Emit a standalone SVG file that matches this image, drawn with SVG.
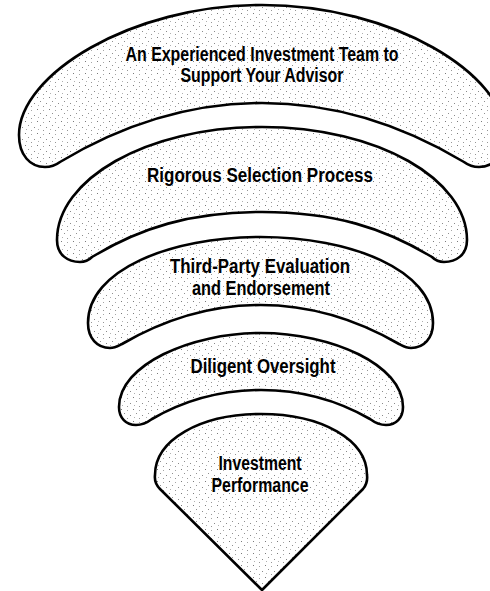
<svg xmlns="http://www.w3.org/2000/svg" width="490" height="591" viewBox="0 0 490 591">
  <defs>
    <!-- sparse, slightly irregular stipple used to fill every band -->
    <pattern id="stipple" width="12" height="12" patternUnits="userSpaceOnUse">
      <rect width="12" height="12" fill="#ffffff"/>
      <rect x="1" y="1" width="1" height="1" fill="#7a7a7a"/>
      <rect x="7" y="2" width="1" height="1" fill="#a6a6a6"/>
      <rect x="4" y="5" width="1" height="1" fill="#909090"/>
      <rect x="10" y="7" width="1" height="1" fill="#8a8a8a"/>
      <rect x="2" y="9" width="1" height="1" fill="#b0b0b0"/>
      <rect x="7" y="10" width="1" height="1" fill="#969696"/>
    </pattern>
    <style>
      .band { fill: url(#stipple); stroke: #000000; stroke-width: 2.6; stroke-linejoin: round; }
      .label { font-family: "Liberation Sans", Arial, sans-serif; font-weight: bold; font-size: 20px; fill: #000000; text-anchor: middle; }
    </style>
  </defs>
  <rect width="490" height="591" fill="#ffffff"/>

  <g id="investment-team">
    <path class="band" d="M 19,135 C 19,75 130,5 262,5 C 394,5 505,75 505,135 C 505,155 494,167 479,167 C 472,167 468,165 464,162 C 414,132 344,103 262,103 C 180,103 110,132 60,162 C 56,165 52,167 45,167 C 30,167 19,155 19,135 Z"/>
    <text class="label" x="262" y="61" textLength="273" lengthAdjust="spacingAndGlyphs">An Experienced Investment Team to</text>
    <text class="label" x="262" y="82" textLength="163" lengthAdjust="spacingAndGlyphs">Support Your Advisor</text>
  </g>

  <g id="selection-process">
    <path class="band" d="M 57,240 C 57,180 145,127 262,127 C 379,127 467,180 467,240 C 467,255 456,262 444,262 C 438,262 435,260 432,257 C 384,228 334,212 262,212 C 190,212 140,228 92,257 C 89,260 86,262 80,262 C 68,262 57,255 57,240 Z"/>
    <text class="label" x="260" y="182" textLength="226" lengthAdjust="spacingAndGlyphs">Rigorous Selection Process</text>
  </g>

  <g id="third-party">
    <path class="band" d="M 88,323 C 88,270 170,237 260.5,237 C 351,237 433,270 433,323 C 433,338 424,348 411,348 C 406,348 403,346 399,344 C 361,322 316,305 260.5,305 C 205,305 160,322 122,344 C 118,346 115,348 110,348 C 97,348 88,338 88,323 Z"/>
    <text class="label" x="260" y="273" textLength="180" lengthAdjust="spacingAndGlyphs">Third-Party Evaluation</text>
    <text class="label" x="261" y="295" textLength="138" lengthAdjust="spacingAndGlyphs">and Endorsement</text>
  </g>

  <g id="oversight">
    <path class="band" d="M 119,407 C 119,365 190,333 261,333 C 332,333 403,365 403,407 C 403,418 396,425 386,425 C 379,425 374,422 370,419 C 337,400 302,390 261,390 C 220,390 185,400 152,419 C 148,422 143,425 136,425 C 126,425 119,418 119,407 Z"/>
    <text class="label" x="263" y="373" textLength="145" lengthAdjust="spacingAndGlyphs">Diligent Oversight</text>
  </g>

  <g id="performance">
    <path class="band" d="M 262,590 L 160,489 Q 154,483 155,475 C 155,440 200,414 261,414 C 322,414 367,440 367,475 Q 368,483 363,489 Z"/>
    <text class="label" x="260" y="470" textLength="83" lengthAdjust="spacingAndGlyphs">Investment</text>
    <text class="label" x="260" y="492" textLength="97" lengthAdjust="spacingAndGlyphs">Performance</text>
  </g>
</svg>
